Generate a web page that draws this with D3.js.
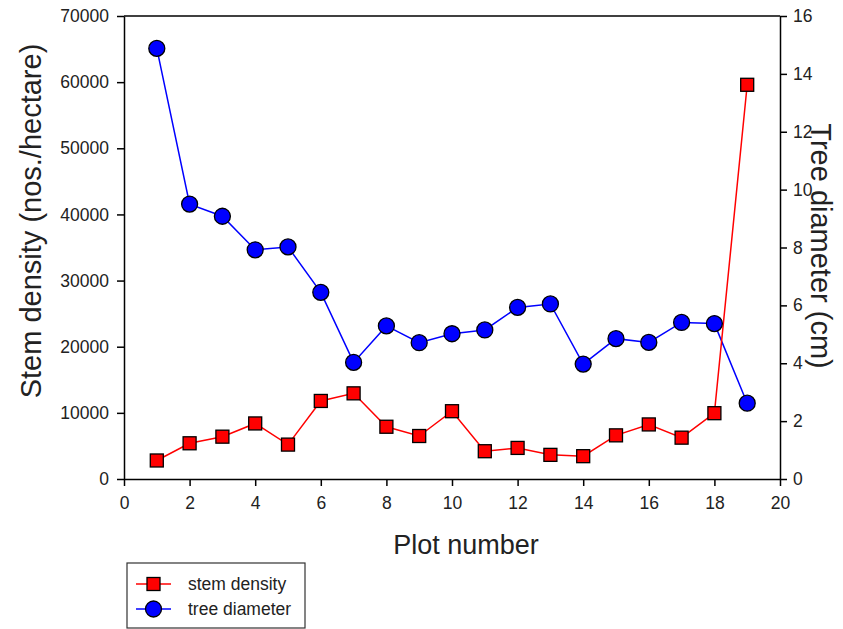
<!DOCTYPE html>
<html>
<head>
<style>
body { margin: 0; background: #fff; }
text { font-family: "Liberation Sans", Arial, sans-serif; }
</style>
</head>
<body></body>
<script src="https://cdn.jsdelivr.net/npm/d3@7"></script>
<script>

// plot numbers 1..19
var plots = [1,2,3,4,5,6,7,8,9,10,11,12,13,14,15,16,17,18,19];

// stem density (nos./hectare), left axis
var stemDensity = [2800,5400,6400,8400,5200,11800,12950,7900,6500,10250,
                   4200,4700,3650,3450,6600,8250,6250,9950,59600];

// tree diameter (cm), right axis
var treeDiameter = [14.88,9.5,9.08,7.92,8.02,6.45,4.03,5.29,4.71,5.02,
                    5.15,5.93,6.05,3.97,4.85,4.72,5.41,5.37,2.62];

var xTicks = [0,2,4,6,8,10,12,14,16,18,20];
var leftTicks = [0,10000,20000,30000,40000,50000,60000,70000];
var rightTicks = [0,2,4,6,8,10,12,14,16];

var W = 843, H = 629;
var mLeft = 124, mRight = 780, mTop = 16, mBottom = 479;

var svg = d3.select("body").append("svg")
    .attr("width", W).attr("height", H);

var x = d3.scaleLinear().domain([0,20]).range([mLeft,mRight]);
var yL = d3.scaleLinear().domain([0,70000]).range([mBottom,mTop]);
var yR = d3.scaleLinear().domain([0,16]).range([mBottom,mTop]);

// top frame line
svg.append("line").attr("x1",mLeft).attr("x2",mRight).attr("y1",mTop).attr("y2",mTop)
    .attr("stroke","#000").attr("stroke-width",1.5);

function styleAxis(g) {
    g.attr("font-size",17.5).attr("font-family","'Liberation Sans', Arial, sans-serif");
    g.selectAll("path, line").attr("stroke","#000").attr("stroke-width",1.5);
    g.selectAll("text").attr("fill","#222");
}

svg.append("g").attr("transform","translate(0,"+mBottom+")")
    .call(d3.axisBottom(x).tickValues(xTicks).tickSize(7).tickSizeOuter(0).tickPadding(11))
    .call(styleAxis);

svg.append("g").attr("transform","translate("+mLeft+",0)")
    .call(d3.axisLeft(yL).tickValues(leftTicks).tickFormat(d3.format("d"))
        .tickSize(7).tickSizeOuter(0).tickPadding(8))
    .call(styleAxis);

svg.append("g").attr("transform","translate("+mRight+",0)")
    .call(d3.axisRight(yR).tickValues(rightTicks).tickSize(7).tickSizeOuter(0).tickPadding(6))
    .call(styleAxis);

// axis titles
svg.append("text").attr("x",466).attr("y",554).attr("text-anchor","middle")
    .style("font-size","27px").attr("fill","#222").text("Plot number");

svg.append("text").attr("transform","translate(41,221) rotate(-90)")
    .attr("text-anchor","middle").style("font-size","29px").attr("fill","#222")
    .text("Stem density (nos./hectare)");

svg.append("text").attr("transform","translate(811,246) rotate(90)")
    .attr("text-anchor","middle").style("font-size","29px").attr("fill","#222")
    .text("Tree diameter (cm)");

var sd = plots.map(function(p,i){ return {x:p, y:stemDensity[i]}; });
var td = plots.map(function(p,i){ return {x:p, y:treeDiameter[i]}; });

svg.append("path").datum(td)
    .attr("fill","none").attr("stroke","#0000ff").attr("stroke-width",1.5)
    .attr("d", d3.line().x(function(d){return x(d.x);}).y(function(d){return yR(d.y);}));

svg.append("path").datum(sd)
    .attr("fill","none").attr("stroke","#ff0000").attr("stroke-width",1.5)
    .attr("d", d3.line().x(function(d){return x(d.x);}).y(function(d){return yL(d.y);}));

svg.selectAll(".dia").data(td).enter().append("circle")
    .attr("class","dia")
    .attr("cx",function(d){return x(d.x);})
    .attr("cy",function(d){return yR(d.y);})
    .attr("r",8)
    .attr("fill","#0000ff").attr("stroke","#000").attr("stroke-width",1.3);

svg.selectAll(".sd").data(sd).enter().append("rect")
    .attr("class","sd")
    .attr("x",function(d){return x(d.x)-6.5;})
    .attr("y",function(d){return yL(d.y)-6.5;})
    .attr("width",13).attr("height",13)
    .attr("fill","#ff0000").attr("stroke","#000").attr("stroke-width",1.3);

// legend
var lg = svg.append("g");
lg.append("rect").attr("x",127).attr("y",563).attr("width",178).attr("height",65)
    .attr("fill","#fff").attr("stroke","#333").attr("stroke-width",1.2);

var items = [
    {label:"stem density", color:"#ff0000", shape:"square"},
    {label:"tree diameter", color:"#0000ff", shape:"circle"}
];
items.forEach(function(it,i){
    var cy = 584 + i*25;
    lg.append("line").attr("x1",136).attr("x2",171).attr("y1",cy).attr("y2",cy)
        .attr("stroke",it.color).attr("stroke-width",1.5);
    if (it.shape == "square") {
        lg.append("rect").attr("x",147).attr("y",cy-6.5).attr("width",13).attr("height",13)
            .attr("fill",it.color).attr("stroke","#000").attr("stroke-width",1.3);
    } else {
        lg.append("circle").attr("cx",153.5).attr("cy",cy).attr("r",8)
            .attr("fill",it.color).attr("stroke","#000").attr("stroke-width",1.3);
    }
    lg.append("text").attr("x",188).attr("y",cy+6).style("font-size","17.5px")
        .attr("fill","#222").text(it.label);
});

</script>
</html>
